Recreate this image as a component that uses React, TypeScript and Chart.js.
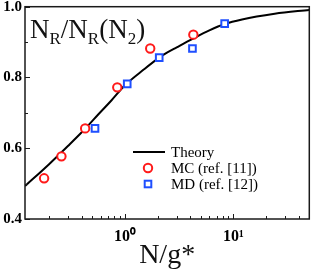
import { useEffect, useRef } from 'react';
import { Chart, registerables } from 'chart.js';

Chart.register(...registerables);

// Theory curve
const theoryX = [0.12, 0.2, 0.3, 0.43, 0.57, 0.75, 1.0, 1.5, 2.07, 2.44, 3.0, 4.2, 6.0, 8.3, 12, 24, 50];
const theoryY = [0.493, 0.555, 0.607, 0.655, 0.696, 0.735, 0.778, 0.823, 0.856, 0.870, 0.885, 0.909, 0.933, 0.951, 0.964, 0.980, 0.991];

// MC (ref. [11])
const mcX = [0.18, 0.26, 0.43, 0.85, 1.71, 4.27];
const mcY = [0.515, 0.577, 0.656, 0.772, 0.882, 0.921];

// MD (ref. [12])
const mdX = [0.53, 1.05, 2.07, 4.19, 8.3];
const mdY = [0.656, 0.782, 0.856, 0.882, 0.952];

const seriesLabels = ['Theory', 'MC (ref. [11])', 'MD (ref. [12])'];

const yTicks = [0.4, 0.6, 0.8, 1.0];
const yMinorTicks = [0.5, 0.7, 0.9];
const xMajorTicks = [1, 10];
const xMajorLabels = ['10⁰', '10¹'];
const xMinorTicks = [0.2, 0.3, 0.4, 0.5, 0.6, 0.7, 0.8, 0.9, 2, 3, 4, 5, 6, 7, 8, 9, 20, 30, 40];

const xTitle = 'N/g*';
const yTitleParts: { t: string; sub: boolean }[] = [
  { t: 'N', sub: false },
  { t: 'R', sub: true },
  { t: '/N', sub: false },
  { t: 'R', sub: true },
  { t: '(N', sub: false },
  { t: '2', sub: true },
  { t: ')', sub: false },
];

const RED = '#ff1a1a';
const BLUE = '#1f4fff';
const SERIF = '"Liberation Serif", "Times New Roman", serif';

const decorPlugin = {
  id: 'decor',
  afterDatasetsDraw(chart: any) {
    const { ctx, chartArea: a, scales } = chart;
    const xs = scales.x;
    const ys = scales.y;
    ctx.save();
    // frame
    ctx.strokeStyle = '#1a1a1a';
    ctx.lineWidth = 1.5;
    ctx.strokeRect(a.left, a.top, a.right - a.left, a.bottom - a.top);
    // inward ticks
    ctx.lineWidth = 1;
    ctx.beginPath();
    for (const v of xMajorTicks) {
      const p = Math.round(xs.getPixelForValue(v)) + 0.5;
      ctx.moveTo(p, a.bottom);
      ctx.lineTo(p, a.bottom - 5);
    }
    for (const v of xMinorTicks) {
      const p = Math.round(xs.getPixelForValue(v)) + 0.5;
      ctx.moveTo(p, a.bottom);
      ctx.lineTo(p, a.bottom - 3);
    }
    for (const v of yTicks) {
      const p = Math.round(ys.getPixelForValue(v)) + 0.5;
      ctx.moveTo(a.left, p);
      ctx.lineTo(a.left + 5, p);
    }
    for (const v of yMinorTicks) {
      const p = Math.round(ys.getPixelForValue(v)) + 0.5;
      ctx.moveTo(a.left, p);
      ctx.lineTo(a.left + 3, p);
    }
    ctx.stroke();

    // title inside the plot
    ctx.fillStyle = '#111';
    ctx.textBaseline = 'alphabetic';
    ctx.textAlign = 'left';
    let tx = a.left + 5;
    for (const part of yTitleParts) {
      ctx.font = part.sub ? `17px ${SERIF}` : `27px ${SERIF}`;
      const by = part.sub ? 44 : 38;
      ctx.fillText(part.t, tx, by);
      tx += ctx.measureText(part.t).width;
    }

    // legend
    const lx = 133;
    const ly = [152, 168, 184];
    ctx.strokeStyle = '#000';
    ctx.lineWidth = 2;
    ctx.beginPath();
    ctx.moveTo(lx, ly[0]);
    ctx.lineTo(lx + 32, ly[0]);
    ctx.stroke();
    ctx.strokeStyle = RED;
    ctx.beginPath();
    ctx.arc(lx + 15, ly[1], 4.2, 0, Math.PI * 2);
    ctx.stroke();
    ctx.strokeStyle = BLUE;
    ctx.strokeRect(lx + 15 - 3.3, ly[2] - 3.3, 6.6, 6.6);
    ctx.fillStyle = '#000';
    ctx.font = `15px ${SERIF}`;
    seriesLabels.forEach((s, i) => {
      ctx.fillText(s, lx + 38, ly[i] + 5);
    });
    ctx.restore();
  },
};

export default function App() {
  const ref = useRef<HTMLCanvasElement | null>(null);
  useEffect(() => {
    if (!ref.current) return;
    const chart = new Chart(ref.current, {
      type: 'scatter',
      data: {
        datasets: [
          {
            label: seriesLabels[1],
            data: mcX.map((x, i) => ({ x, y: mcY[i] })),
            pointStyle: 'circle',
            pointRadius: 4.2,
            pointBorderWidth: 2,
            borderColor: RED,
            backgroundColor: '#fff',
            order: 1,
          },
          {
            label: seriesLabels[2],
            data: mdX.map((x, i) => ({ x, y: mdY[i] })),
            pointStyle: 'rect',
            pointRadius: 4.7,
            pointBorderWidth: 2,
            borderColor: BLUE,
            backgroundColor: '#fff',
            order: 2,
          },
          {
            label: seriesLabels[0],
            data: theoryX.map((x, i) => ({ x, y: theoryY[i] })),
            showLine: true,
            pointRadius: 0,
            borderColor: '#000',
            borderWidth: 2,
            cubicInterpolationMode: 'monotone',
            order: 10,
          } as any,
        ],
      },
      options: {
        animation: false,
        responsive: false,
        devicePixelRatio: 1,
        layout: { padding: { top: 6, right: 1, left: 0, bottom: 0 } },
        plugins: { legend: { display: false }, tooltip: { enabled: false } },
        scales: {
          x: {
            type: 'logarithmic',
            min: 0.12,
            max: 50,
            grid: { display: false, drawTicks: false },
            border: { display: false },
            ticks: {
              color: '#000',
              font: { family: SERIF, size: 16, weight: 'bold' },
              padding: 8,
              maxRotation: 0,
              autoSkip: false,
              callback: (v: any) => {
                const i = xMajorTicks.indexOf(Number(v));
                return i >= 0 ? xMajorLabels[i] : '';
              },
            },
            afterBuildTicks: (s: any) => {
              s.ticks = xMajorTicks.map((v) => ({ value: v }));
            },
            afterFit: (s: any) => {
              s.height = 55;
              s.paddingLeft = 0;
              s.paddingRight = 0;
            },
            title: {
              display: true,
              text: xTitle,
              color: '#111',
              font: { family: SERIF, size: 28 },
              padding: { top: 0, bottom: 2 },
            },
          },
          y: {
            min: 0.4,
            max: 1.0,
            grid: { display: false, drawTicks: false },
            border: { display: false },
            ticks: {
              color: '#000',
              font: { family: SERIF, size: 15, weight: 'bold' },
              padding: 3,
              callback: (v: any) => Number(v).toFixed(1),
            },
            afterBuildTicks: (s: any) => {
              s.ticks = yTicks.map((v) => ({ value: v }));
            },
            afterFit: (s: any) => {
              s.width = 25;
              s.paddingTop = 0;
              s.paddingBottom = 0;
            },
          },
        },
      } as any,
      plugins: [decorPlugin],
    });
    return () => chart.destroy();
  }, []);
  return (
    <div style={{ position: 'absolute', left: 0, top: 0, width: 316, height: 274, background: '#fff' }}>
      <canvas ref={ref} width={316} height={274} style={{ display: 'block' }} />
    </div>
  );
}
